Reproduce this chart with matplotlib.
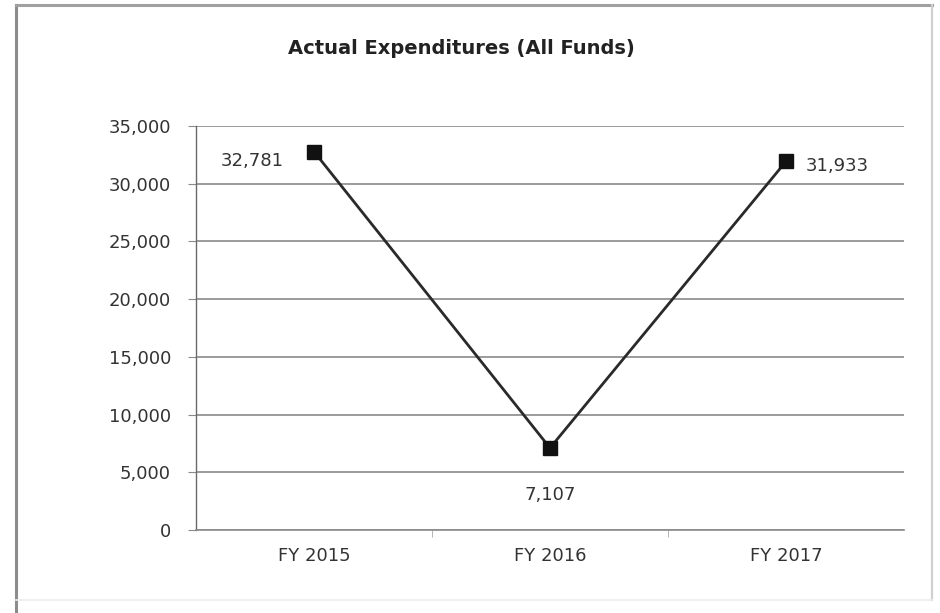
import matplotlib
matplotlib.use("Agg")
import matplotlib.pyplot as plt
from matplotlib.lines import Line2D
from matplotlib.ticker import FuncFormatter, FixedLocator

categories = ["FY 2015", "FY 2016", "FY 2017"]
expenditures = [32781, 7107, 31933]
y_ticks = [0, 5000, 10000, 15000, 20000, 25000, 30000, 35000]
title = "Actual Expenditures (All Funds)"

plt.rcParams["font.family"] = ["DejaVu Sans"]

W, H = 940, 613
fig = plt.figure(figsize=(W / 100, H / 100), dpi=100)
fig.patch.set_facecolor("white")


def frame_line(x0, y0, x1, y1, color, lw):
    fig.add_artist(Line2D([x0 / W, x1 / W], [1 - y0 / H, 1 - y1 / H],
                          transform=fig.transFigure, color=color, linewidth=lw))


# chart frame (pixel coordinates, origin top-left)
frame_line(16, 5, 16, 613, "#8c8c8c", 2.2)
frame_line(16, 5, 932, 5, "#a0a0a0", 2.2)
frame_line(932, 5, 932, 600, "#d0d0d0", 1.6)
frame_line(16, 600, 932, 600, "#ececec", 1.2)

ax = fig.add_axes([196 / W, 1 - 530 / H, (904 - 196) / W, (530 - 126) / H])
x = list(range(len(categories)))

ax.set_xlim(-0.5, len(categories) - 0.5)
ax.set_ylim(y_ticks[0], y_ticks[-1])
ax.yaxis.set_major_locator(FixedLocator(y_ticks))
ax.yaxis.set_major_formatter(FuncFormatter(lambda v, p: f"{int(v):,}"))
ax.grid(axis="y", color="#8a8a8a", linewidth=1.2)
ax.set_axisbelow(True)

for side in ("top", "right"):
    ax.spines[side].set_visible(False)
ax.spines["left"].set_color("#6a6a6a")
ax.spines["bottom"].set_color("#8a8a8a")
ax.spines["left"].set_linewidth(1.0)
ax.spines["bottom"].set_linewidth(1.2)

label_size = 13
ax.set_xticks(x)
ax.set_xticklabels(categories)
ax.set_xticks([i + 0.5 for i in x[:-1]], minor=True)
ax.tick_params(axis="x", which="major", length=0, pad=12, labelsize=label_size, labelcolor="#333333")
ax.tick_params(axis="x", which="minor", length=5, direction="out", color="#aaaaaa")
ax.tick_params(axis="y", length=6, direction="out", color="#8a8a8a", pad=12,
               labelsize=label_size, labelcolor="#333333")

ax.plot(x, expenditures, color="#2a2a2a", linewidth=2.0, marker="s",
        markersize=10, markerfacecolor="#111111", markeredgecolor="#111111", zorder=3)

# value labels: (dx, dy, ha) in points from each marker
offsets = [(-22, -7, "right"), (0, -34, "center"), (14, -3, "left")]
for xi, v, (dx, dy, ha) in zip(x, expenditures, offsets):
    ax.annotate(f"{v:,}", (xi, v), xytext=(dx, dy), textcoords="offset points",
                ha=ha, va="center", fontsize=label_size, color="#333333")

fig.text(461 / W, 1 - 48 / H, title, ha="center", va="center",
         fontsize=14, fontweight="bold", color="#222222")

fig.savefig("out.png", dpi=100, facecolor="white")
